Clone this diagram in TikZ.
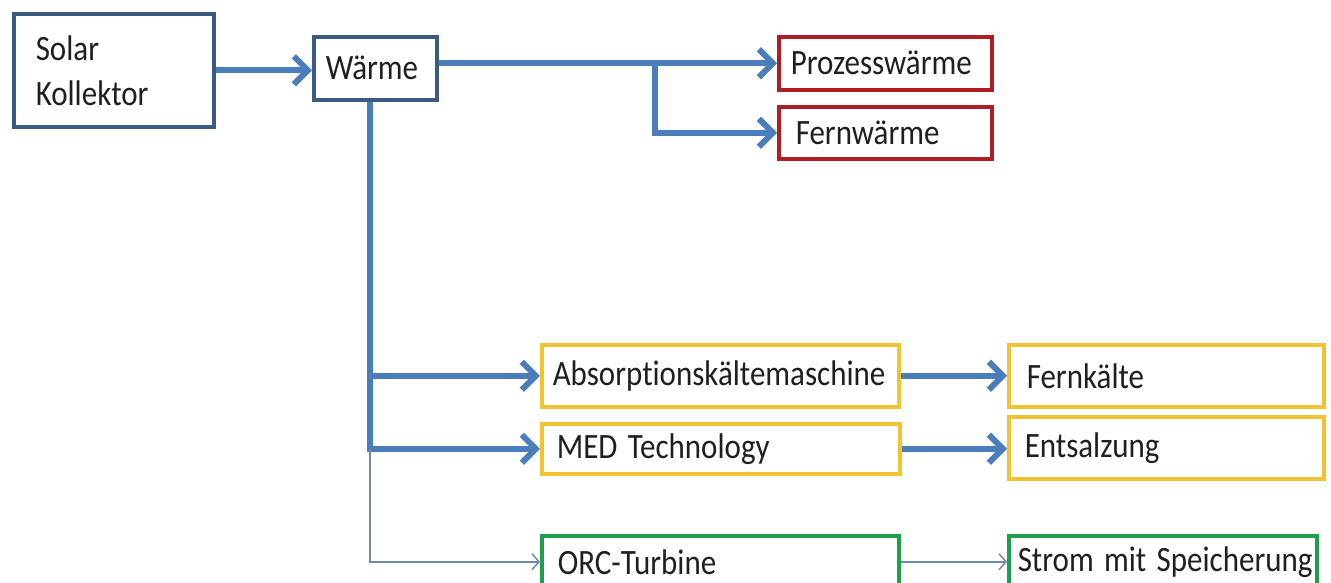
\documentclass[tikz,border=0pt]{standalone}
\usepackage{fontspec}
\setmainfont{Carlito}[Ligatures=NoCommon]
\usetikzlibrary{arrows.meta}
\definecolor{arrowblue}{HTML}{4A7EBB}
\definecolor{boxblue}{HTML}{3B5B82}
\definecolor{boxred}{HTML}{B01E23}
\definecolor{boxyellow}{HTML}{F2C230}
\definecolor{boxgreen}{HTML}{1E9F4E}
\definecolor{thinblue}{HTML}{7089AD}
\newcommand{\tx}[1]{\scalebox{1}[1.15]{#1}}
\begin{document}
\begin{tikzpicture}[x=1pt,y=-1pt,
  box/.style={draw, line width=3.5pt, anchor=north west, align=left, inner ysep=0pt,
    font=\fontsize{31}{45}\selectfont, text=black!88},
  thick arrow/.style={draw=arrowblue, line width=6pt, -{Straight Barb[length=14pt,width=28pt]}},
  thin arrow/.style={draw=thinblue, line width=1.5pt, -{Straight Barb[length=7pt,width=16pt]}},
]
\useasboundingbox (0,0) rectangle (1331,582);
\fill[white] (0,0) rectangle (1331,582);

\node[box, draw=boxblue, minimum width=200pt, minimum height=113pt, text width=156pt, inner xsep=22pt] (S) at (12,12) {\tx{Solar}\\\tx{Kollektor}};
\node[box, draw=boxblue, minimum width=123pt, minimum height=63pt, text width=99pt, inner xsep=12pt] (W) at (312,35) {\tx{Wärme}};
\node[box, draw=boxred, minimum width=213pt, minimum height=53pt, text width=189pt, inner xsep=12pt] (P) at (777,35) {\tx{Prozesswärme}};
\node[box, draw=boxred, minimum width=213pt, minimum height=52pt, text width=179pt, inner xsep=17pt] (F) at (777,105) {\tx{Fernwärme}};
\node[box, draw=boxyellow, minimum width=357pt, minimum height=62pt, text width=335pt, inner xsep=11pt] (A) at (540,343) {\tx{Absorptionskältemaschine}};
\node[box, draw=boxyellow, minimum width=358pt, minimum height=50pt, text width=328pt, inner xsep=15pt] (M) at (540,422) {\tx{MED Technology}};
\node[box, draw=boxgreen, minimum width=357pt, minimum height=52pt, text width=325pt, inner xsep=16pt] (O) at (540,534) {\tx{ORC-Turbine}};
\node[box, draw=boxyellow, minimum width=315pt, minimum height=62pt, text width=279pt, inner xsep=18pt] (K) at (1007,343) {\tx{Fernkälte}};
\node[box, draw=boxyellow, minimum width=315pt, minimum height=62pt, text width=283pt, inner xsep=16pt] (E) at (1007,415) {\tx{Entsalzung}};
\node[box, draw=boxgreen, minimum width=308pt, minimum height=52pt, text width=290pt, inner xsep=9pt] (St) at (1007,534) {\tx{Strom mit Speicherung}};

\draw[thick arrow] (S.east) -- (S.east -| W.west);
\draw[thick arrow] (W.east |- P.west) -- (P.west);
\path (P.west) ++(-122,0) coordinate (br);
\draw[thick arrow] (br) |- (F.west);

\coordinate (top) at ([xshift=-5.5pt]W.south);
\draw[thick arrow] (top) |- (M.west);
\draw[thick arrow] (top |- A.west) -- (A.west);
\draw[thin arrow] (top |- M.west) |- (O.west);

\draw[thick arrow] (A.east) -- (A.east -| K.west);
\draw[thick arrow] (M.east) -- (M.east -| E.west);
\draw[thin arrow] (O.east) -- (O.east -| St.west);
\end{tikzpicture}
\end{document}
